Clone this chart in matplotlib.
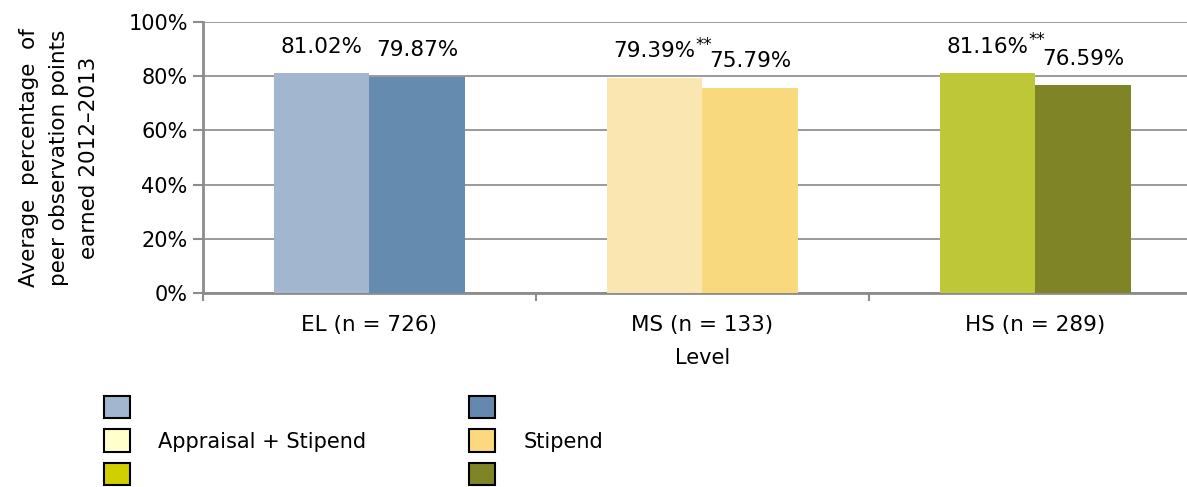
import matplotlib.pyplot as plt
import numpy as np
from matplotlib.patches import Patch
from matplotlib.ticker import FuncFormatter, MultipleLocator

levels = ["EL (n = 726)", "MS (n = 133)", "HS (n = 289)"]
appraisal_stipend = [81.02, 79.39, 81.16]
stipend_only = [79.87, 75.79, 76.59]
significance = ["", "**", "**"]

bar_colors_left = ["#A2B7CF", "#FAE6B0", "#BDC737"]
bar_colors_right = ["#658BAF", "#F9D97E", "#7F8427"]
legend_left = ["#A2B7CF", "#FFFFCC", "#D0CF00"]
legend_right = ["#6589AE", "#FBD97C", "#7F8426"]
legend_left_labels = ["", "Appraisal + Stipend", ""]
legend_right_labels = ["", "Stipend", ""]

plt.rcParams["font.family"] = ["DejaVu Sans"]
GRID = "#9a9a9a"
AXIS = "#8c8c8c"

W, H = 1187, 487
fig = plt.figure(figsize=(W / 100, H / 100), dpi=100)
# plot area runs a little past the right edge of the canvas
ax = fig.add_axes([203 / W, 1 - 293 / H, 999 / W, (293 - 22) / H])

x = np.arange(len(levels))
width = 0.288
ax.bar(x - width / 2, appraisal_stipend, width, color=bar_colors_left, zorder=3)
ax.bar(x + width / 2, stipend_only, width, color=bar_colors_right, zorder=3)

for xi, v, sig in zip(x, appraisal_stipend, significance):
    t = ax.annotate(f"{v:.2f}%", (xi - width / 2, v), xytext=(0, 19), textcoords="offset points",
                    ha="center", va="center", fontsize=15.5)
    if sig:
        ax.annotate(sig, (1.0, 1.0), xycoords=t, xytext=(0, 4), textcoords="offset points",
                    ha="left", va="top", fontsize=12)
for xi, v in zip(x, stipend_only):
    ax.annotate(f"{v:.2f}%", (xi + width / 2, v), xytext=(0, 19), textcoords="offset points",
                ha="center", va="center", fontsize=15.5)

ax.set_xlim(-0.5, len(levels) - 0.5)
ax.set_ylim(0, 100)
ax.yaxis.set_major_locator(MultipleLocator(20))
ax.yaxis.set_major_formatter(FuncFormatter(lambda v, _: f"{v:.0f}%"))
ax.yaxis.grid(True, color=GRID, linewidth=1.4, zorder=0)
ax.set_axisbelow(True)

ax.set_xticks(x)
ax.set_xticklabels(levels, fontsize=15.5)
ax.tick_params(axis="x", length=0, pad=16)
ax.set_xticks(np.arange(len(levels) + 1) - 0.5, minor=True)
ax.tick_params(axis="x", which="minor", length=6, width=1.5, color=AXIS)
ax.tick_params(axis="y", length=7, width=1.5, color=AXIS, labelsize=15, pad=4)

for side in ["top", "right"]:
    ax.spines[side].set_visible(False)
for side in ["left", "bottom"]:
    ax.spines[side].set_color(AXIS)
    ax.spines[side].set_linewidth(2)

ax.set_xlabel("Level", fontsize=15, labelpad=9)
ax.set_ylabel("Average  percentage  of\npeer observation points\nearned 2012\u20132013",
              fontsize=15.5, labelpad=21, linespacing=1.63)

legend_kw = dict(loc="upper left", frameon=False, fontsize=15, handlelength=1.25,
                 handleheight=1.25, labelspacing=0.55, handletextpad=1.35, borderpad=0,
                 borderaxespad=0)
handles = [Patch(facecolor=c, edgecolor="black", linewidth=1.5) for c in legend_left]
fig.legend(handles, legend_left_labels, bbox_to_anchor=(104 / W, 1 - 396 / H), **legend_kw)
handles = [Patch(facecolor=c, edgecolor="black", linewidth=1.5) for c in legend_right]
fig.legend(handles, legend_right_labels, bbox_to_anchor=(469 / W, 1 - 396 / H), **legend_kw)

fig.savefig("out.png", dpi=100)
